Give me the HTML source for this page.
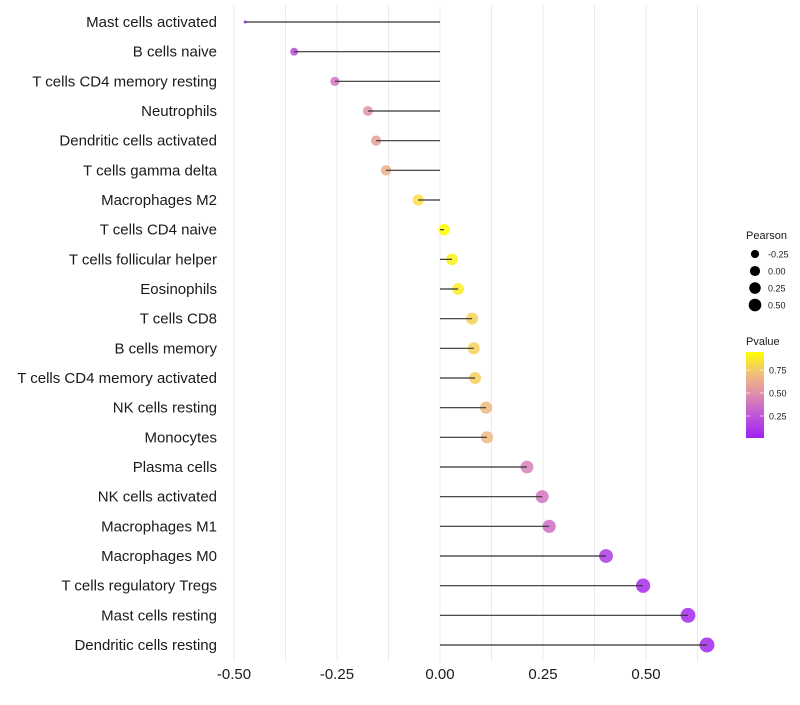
<!DOCTYPE html>
<html><head><meta charset="utf-8"><style>
body{margin:0;background:#fff;font-family:"Liberation Sans",sans-serif}
</style></head><body>
<svg id="chart" width="800" height="700" xmlns="http://www.w3.org/2000/svg" font-family="Liberation Sans, sans-serif">
<defs><linearGradient id="pg" x1="0" y1="1" x2="0" y2="0">
<stop offset="0" stop-color="#a020f0"/><stop offset="0.27" stop-color="#c058d8"/><stop offset="0.52" stop-color="#e090a8"/><stop offset="0.76" stop-color="#f0c078"/><stop offset="1" stop-color="#ffff00"/></linearGradient></defs>
<g id="grid"></g>
<g id="marks"></g>
<g id="axes"></g>
<g id="legend"></g>
</svg>
<script>
const categories=["Mast cells activated","B cells naive","T cells CD4 memory resting","Neutrophils","Dendritic cells activated","T cells gamma delta","Macrophages M2","T cells CD4 naive","T cells follicular helper","Eosinophils","T cells CD8","B cells memory","T cells CD4 memory activated","NK cells resting","Monocytes","Plasma cells","NK cells activated","Macrophages M1","Macrophages M0","T cells regulatory  Tregs","Mast cells resting","Dendritic cells resting"];
const pearson=[-0.473,-0.354,-0.255,-0.175,-0.155,-0.131,-0.053,0.01,0.029,0.044,0.078,0.082,0.085,0.112,0.114,0.211,0.248,0.265,0.403,0.493,0.602,0.648];
const pvalue=[0.05,0.2,0.4,0.55,0.6,0.68,0.88,1.0,0.95,0.93,0.83,0.82,0.82,0.72,0.72,0.45,0.4,0.37,0.12,0.06,0.04,0.03];
const xTicks=[-0.5,-0.25,0,0.25,0.5];
const xTickLabels=["-0.50","-0.25","0.00","0.25","0.50"];
const sizeLegend=[-0.25,0,0.25,0.5];
const sizeLegendLabels=["-0.25","0.00","0.25","0.50"];
const pTicks=[0.25,0.5,0.75];
const pTickLabels=["0.25","0.50","0.75"];
const NS="http://www.w3.org/2000/svg";
const X=v=>440+v*412;
const Y=i=>22+i*(623/21);
const pMin=Math.min(...pearson),pMax=Math.max(...pearson);
const R=v=>{const t=Math.max(0,Math.min(1,(v-pMin)/(pMax-pMin)));return 1.5+6.0*Math.pow(t,0.4);};
const PY=p=>439-p*92;
const stops=[[0,[160,32,240]],[0.27,[192,88,216]],[0.52,[224,144,168]],[0.76,[240,192,120]],[1,[255,255,0]]];
function col(p){for(let i=1;i<stops.length;i++){if(p<=stops[i][0]){const a=stops[i-1],b=stops[i];const t=(p-a[0])/(b[0]-a[0]);return 'rgb('+a[1].map((c,k)=>Math.round(c+(b[1][k]-c)*t)).join(',')+')';}}return 'rgb(255,255,0)';}
function mk(tag,at,par){const e=document.createElementNS(NS,tag);for(const k in at)e.setAttribute(k,at[k]);par.appendChild(e);return e;}
const grid=document.getElementById('grid'),marks=document.getElementById('marks'),axes=document.getElementById('axes'),leg=document.getElementById('legend');
for(let v=-0.5;v<=0.626;v+=0.125){const l=mk('line',{x1:X(v),x2:X(v),y1:5,y2:662,stroke:'#ebebeb','stroke-width':1},grid);

}
categories.forEach((c,i)=>{
const t=mk('text',{x:217,y:Y(i)+5,'text-anchor':'end','font-size':15,fill:'#1a1a1a'},axes);t.textContent=c;


const ci=mk('circle',{cx:X(pearson[i]),cy:Y(i),r:R(pearson[i]),fill:col(pvalue[i]),'fill-opacity':0.85},marks);


const s=mk('line',{x1:X(0),x2:X(pearson[i]),y1:Y(i),y2:Y(i),stroke:'#333','stroke-width':1.2},marks);


});
xTicks.forEach((v,i)=>{const t=mk('text',{x:X(v),y:679,'text-anchor':'middle','font-size':15,fill:'#1a1a1a'},axes);t.textContent=xTickLabels[i];

});
let t=mk('text',{x:746,y:239,'font-size':11,fill:'#1a1a1a'},leg);t.textContent='Pearson';


sizeLegend.forEach((v,i)=>{const y=254+i*17;const c=mk('circle',{cx:755,cy:y,r:R(v)*0.88,fill:'#000'},leg);


const l=mk('text',{x:768,y:y+3.5,'font-size':9,fill:'#1a1a1a'},leg);l.textContent=sizeLegendLabels[i];

});
t=mk('text',{x:746,y:345,'font-size':11,fill:'#1a1a1a'},leg);t.textContent='Pvalue';


const bar=mk('rect',{x:746,y:352,width:18,height:86,fill:'url(#pg)'},leg);


pTicks.forEach((p,i)=>{mk('line',{x1:746,x2:750,y1:PY(p),y2:PY(p),stroke:'#fff','stroke-width':0.6},leg);mk('line',{x1:760,x2:764,y1:PY(p),y2:PY(p),stroke:'#fff','stroke-width':0.6},leg);
const l=mk('text',{x:769,y:PY(p)+3.5,'font-size':9,fill:'#1a1a1a'},leg);l.textContent=pTickLabels[i];

});
</script>
</body></html>
